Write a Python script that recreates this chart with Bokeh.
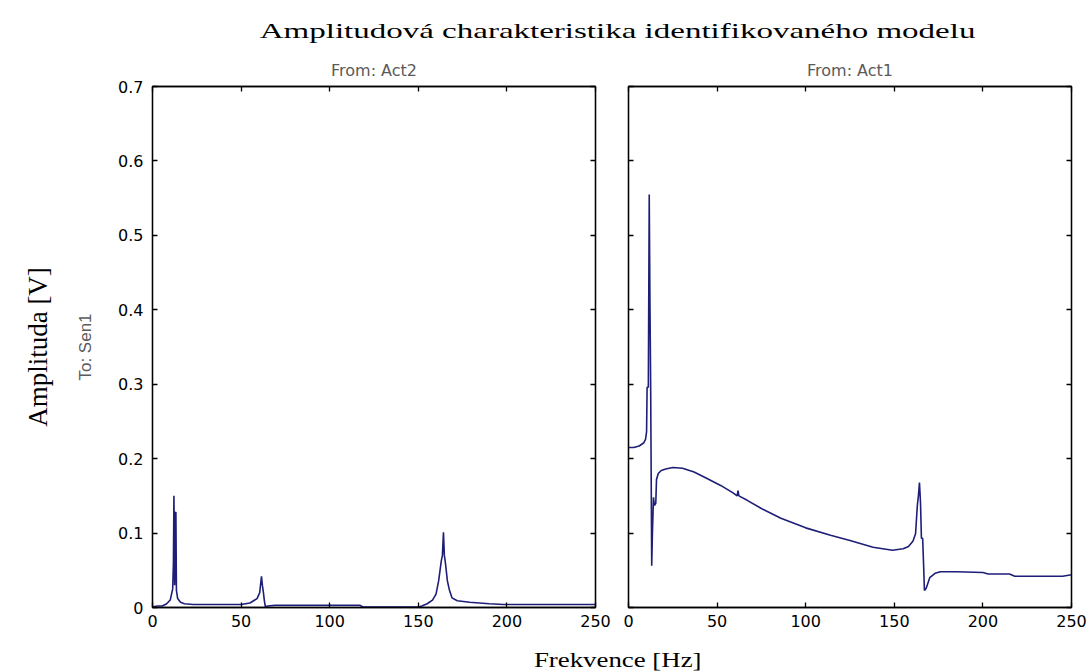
from bokeh.plotting import figure
from bokeh.models import Range1d, LinearAxis, Div, FixedTicker, CustomLabelingPolicy
from bokeh.layouts import column, row
from bokeh.embed import file_html
from bokeh.resources import INLINE

# ---------------- data ----------------
title_text = "Amplitudová charakteristika identifikovaného modelu"
xlabel_text = "Frekvence [Hz]"
ylabel_text = "Amplituda [V]"
output_name = "To: Sen1"
input_names = ["From: Act2", "From: Act1"]

x_ticks = [0, 50, 100, 150, 200, 250]
y_ticks = [0, 0.1, 0.2, 0.3, 0.4, 0.5, 0.6, 0.7]

# From Act2 -> Sen1
freq_act2 = [0, 3, 5.5, 8, 10, 11.4, 11.8, 12.1, 12.5, 13.0, 13.2, 13.5, 14.2, 15.8, 18, 23,
             30, 40, 50, 55, 59, 60.5, 61.5, 62.0, 62.6, 63.2, 63.7, 65, 69, 90, 117, 119,
             130, 150, 152, 155, 158, 160, 161.5, 163, 163.6, 164.2, 164.7, 165.3, 166.4,
             167.5, 169, 172, 179, 190, 198, 220, 250]
amp_act2 = [0.001, 0.002, 0.002, 0.005, 0.010, 0.025, 0.060, 0.150, 0.030, 0.128, 0.128, 0.023,
            0.012, 0.007, 0.005, 0.004, 0.004, 0.004, 0.004, 0.006, 0.012, 0.020, 0.042, 0.030,
            0.020, 0.008, 0.001, 0.002, 0.003, 0.003, 0.003, 0.0005, 0.0005, 0.0005, 0.002,
            0.005, 0.010, 0.018, 0.036, 0.063, 0.070, 0.101, 0.070, 0.060, 0.036, 0.024,
            0.013, 0.009, 0.007, 0.005, 0.004, 0.004, 0.004]

# From Act1 -> Sen1
freq_act1 = [0, 3, 6, 8.5, 9.6, 10.2, 10.5, 11.2, 11.7, 12.1, 12.5, 13.1, 13.5, 14.1, 14.6,
             15.4, 15.8, 16.8, 18.5, 21, 25, 30.5, 37, 44.6, 52, 59, 61.3, 61.8, 62.3, 67,
             75, 86, 100, 114, 125, 138, 149, 152, 155, 158, 160.5, 162, 163.0, 163.6, 164.2,
             164.8, 165.3, 166.0, 166.5, 167.0, 168, 170, 173, 176, 185, 200, 203, 215, 218,
             235, 245, 250]
amp_act1 = [0.215, 0.215, 0.217, 0.221, 0.226, 0.236, 0.296, 0.296, 0.555, 0.410, 0.300, 0.056,
            0.100, 0.148, 0.137, 0.140, 0.172, 0.180, 0.184, 0.186, 0.188, 0.187, 0.182, 0.173,
            0.164, 0.154, 0.150, 0.157, 0.150, 0.144, 0.133, 0.120, 0.107, 0.097, 0.090, 0.081,
            0.077, 0.078, 0.079, 0.082, 0.089, 0.099, 0.137, 0.150, 0.168, 0.140, 0.093, 0.093,
            0.060, 0.023, 0.026, 0.040, 0.046, 0.048, 0.048, 0.047, 0.045, 0.045, 0.042,
            0.042, 0.042, 0.044]

# ---------------- styling ----------------
LINE_COLOR = "#1e1e78"
TICK_FONT = "DejaVu Sans"
FRAME_W, FRAME_H = 443, 521
BORDER_TOP, BORDER_BOTTOM = 36, 28

NO_LABELS = """
for (const i of indices) { indices.unset(i) }
return indices
"""


def hide_labels(ax):
    ax.major_label_policy = CustomLabelingPolicy(code=NO_LABELS)
    ax.major_label_text_font_size = "0px"
    ax.major_label_standoff = 0


def box_axis(ticks):
    ax = LinearAxis(ticker=FixedTicker(ticks=ticks, minor_ticks=[]),
                    major_tick_in=5, major_tick_out=0, minor_tick_in=0, minor_tick_out=0,
                    axis_line_width=1.3, major_tick_line_width=1.3)
    hide_labels(ax)
    return ax


def make_panel(freq, amp, label, border_left, border_right, show_ylabels):
    p = figure(frame_width=FRAME_W, frame_height=FRAME_H,
               x_range=Range1d(0, 250), y_range=Range1d(0, 0.7),
               output_backend="svg", toolbar_location=None,
               min_border_left=border_left, min_border_right=border_right,
               min_border_top=BORDER_TOP, min_border_bottom=BORDER_BOTTOM,
               background_fill_color="white", border_fill_color="white")
    p.grid.visible = False
    p.outline_line_color = "black"
    p.outline_line_width = 1.3

    for ax in (p.xaxis[0], p.yaxis[0]):
        ax.major_tick_in = 5
        ax.major_tick_out = 0
        ax.minor_tick_in = 0
        ax.minor_tick_out = 0
        ax.axis_line_color = "black"
        ax.axis_line_width = 1.3
        ax.major_tick_line_width = 1.3
        ax.major_label_text_font = TICK_FONT
        ax.major_label_text_font_size = "16px"
        ax.major_label_text_color = "black"
    p.xaxis.ticker = FixedTicker(ticks=x_ticks, minor_ticks=[])
    p.yaxis.ticker = FixedTicker(ticks=y_ticks, minor_ticks=[])
    p.xaxis.major_label_standoff = 7
    p.yaxis.major_label_standoff = 9
    if not show_ylabels:
        hide_labels(p.yaxis[0])

    p.add_layout(box_axis(x_ticks), "above")
    p.add_layout(box_axis(y_ticks), "right")

    # subplot heading (input channel)
    p.title.text = label
    p.title.align = "center"
    p.title.text_font = TICK_FONT
    p.title.text_font_size = "16px"
    p.title.text_font_style = "normal"
    p.title.text_color = "#5a5a5a"
    p.title.standoff = 13

    p.line(freq, amp, line_color=LINE_COLOR, line_width=1.6)
    return p


p1 = make_panel(freq_act2, amp_act2, input_names[0], 152, 22, True)
p2 = make_panel(freq_act1, amp_act1, input_names[1], 11, 20, False)

# output channel name on the inner left axis of the first panel
p1.yaxis[0].axis_label = output_name
p1.yaxis[0].axis_label_text_font = "Liberation Sans"
p1.yaxis[0].axis_label_text_font_size = "17px"
p1.yaxis[0].axis_label_text_font_style = "normal"
p1.yaxis[0].axis_label_text_color = "#5a5a5a"
p1.yaxis[0].axis_label_standoff = 20

# overall y label on an outer, tick-less axis
outer = LinearAxis(ticker=FixedTicker(ticks=[], minor_ticks=[]),
                   axis_line_color=None, major_tick_line_color=None,
                   minor_tick_line_color=None,
                   axis_label=ylabel_text, axis_label_text_font="Liberation Serif",
                   axis_label_text_font_size="27px", axis_label_text_font_style="normal",
                   axis_label_text_color="black", axis_label_standoff=21)
p1.add_layout(outer, "left")

title_div = Div(
    text=('<div style="box-sizing:border-box;width:1091px;padding-left:145px;padding-top:18px;'
          'text-align:center;font-family:\'Liberation Serif\';font-size:22px;line-height:25px;'
          'color:black;">'
          '<span style="display:inline-block;transform:scaleX(1.5);white-space:nowrap;">'
          + title_text + '</span></div>'),
    width=1091, height=50, margin=(0, 0, 0, 0))

xlabel_div = Div(
    text=('<div style="box-sizing:border-box;width:1091px;padding-left:145px;padding-top:12px;'
          'text-align:center;font-family:\'Liberation Serif\';font-size:22px;line-height:25px;'
          'color:black;">'
          '<span style="display:inline-block;transform:scaleX(1.22);white-space:nowrap;">'
          + xlabel_text + '</span></div>'),
    width=1091, height=36, margin=(0, 0, 0, 0))

layout = column(title_div, row(p1, p2, spacing=0), xlabel_div, spacing=0)

open("out.html", "w").write(file_html(layout, INLINE))
